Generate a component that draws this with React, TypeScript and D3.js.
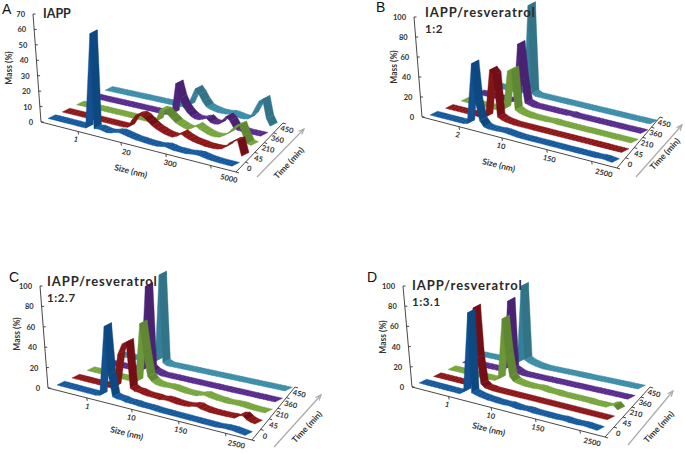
import React from "react";
import * as d3 from "d3";

type Pt = [number, number];

// shared
const timeLabels = ["0", "45", "210", "360", "450"];
const seriesColors = ["#14589c", "#8c1518", "#76a53c", "#57298a", "#3a8ca6"];

// panel A
const sizeLabelsA = ["1", "20", "300", "5000"];
const massTicksA = [0, 10, 20, 30, 40, 50, 60, 70];
const a0 = [1, 1, 1, 1, 1, 1, 1, 1, 1, 1, 63, 2, 2.5, 2, 1.5, 2, 3, 3.5, 3, 2.5, 2, 1.5, 1.5, 1.2, 1, 1, 1, 1.5, 2, 1.5, 1, 1, 1, 1, 1.5, 1.8, 2, 1.5, 1, 0.8, 0.6, 0.5, 0.5, 0.5, 0.5];
const a1 = [0.5, 0.5, 0.5, 0.5, 0.5, 0.5, 0.5, 0.5, 0.5, 0.5, 0.5, 0.5, 0.5, 0.5, 0.5, 0.5, 1, 6, 10, 11, 10, 8, 6, 4.5, 3.5, 2.5, 2, 1.8, 3, 5.5, 4, 3, 2.2, 1.8, 1.5, 1, 1, 1, 1.2, 2, 4, 7, 9, 10, 0.5];
const a2 = [0.5, 0.5, 0.5, 0.5, 0.5, 0.5, 0.5, 0.5, 0.5, 0.5, 0.5, 0.5, 0.5, 0.5, 0.5, 0.5, 0.5, 0.5, 0.5, 1, 2, 10, 10, 8, 6, 4, 3, 2, 1.5, 3, 5, 3.5, 2.5, 1.5, 1, 1, 1.5, 3, 5, 8, 11, 12.5, 6, 1.5, 1];
const a3 = [0.5, 0.5, 0.5, 0.5, 0.5, 0.5, 0.5, 0.5, 0.5, 0.5, 0.5, 0.5, 0.5, 0.5, 0.5, 0.5, 0.5, 0.5, 0.5, 0.5, 1, 2, 22, 13, 8, 5, 3, 2, 2, 3, 4, 2, 1.5, 2, 5, 8, 6, 2, 1, 0.8, 0.5, 0.5, 0.5, 0.5, 0.5];
const a4 = [0.5, 0.5, 0.5, 0.5, 0.5, 0.5, 0.5, 0.5, 0.5, 0.5, 0.5, 0.5, 0.5, 0.5, 0.5, 0.5, 0.5, 0.5, 0.5, 0.5, 0.5, 1, 2, 8, 14, 11, 7, 4, 3, 2.5, 2, 2, 2, 2.5, 2.5, 2, 1.5, 1.5, 2, 5, 10, 15, 17, 5, 0.5];

// panel B
const sizeLabelsB = ["2", "10", "150", "2500"];
const massTicksB = [0, 20, 40, 60, 80, 100];
const b0 = [1, 1, 1, 1, 1, 1, 1, 1, 1, 2, 63, 25, 8, 3, 2, 2, 2, 2.5, 2.5, 2, 1.5, 1.2, 1, 1, 1, 1, 1, 1, 1, 1, 1, 1, 1, 1, 1, 1, 1, 1, 1, 1, 1, 1.5, 1.5, 1, 0.5];
const b1 = [0.5, 0.5, 0.5, 0.5, 0.5, 0.5, 0.5, 0.5, 0.5, 0.5, 2, 50, 46, 5, 3, 2, 1.5, 1, 1, 1, 1, 1, 1, 1, 1, 1, 1, 1, 1, 1, 1, 1, 1, 1, 1, 1, 1, 1, 1, 1, 1, 1, 1, 1, 1];
const b2 = [0.5, 0.5, 0.5, 0.5, 0.5, 0.5, 0.5, 0.5, 0.5, 0.5, 0.5, 3, 42, 44, 5, 3, 2, 1.5, 1, 1, 1, 1, 1, 1.5, 1.5, 1, 1, 1, 1, 1, 1, 1, 1, 1, 1, 1, 1, 1, 1, 1, 1, 1, 1, 1, 1];
const b3 = [0.5, 0.5, 0.5, 0.5, 0.5, 0.5, 0.5, 0.5, 0.5, 0.5, 2, 60, 25, 3, 2, 1, 1, 1, 1, 1, 1, 1, 1, 1, 1, 1.5, 1, 1, 1, 1, 1, 1, 1, 1, 1, 1, 1, 1, 1, 1, 1, 1, 1, 1, 1];
const b4 = [0.5, 0.5, 0.5, 0.5, 0.5, 0.5, 0.5, 0.5, 0.5, 3, 90, 3, 1, 1, 1, 1, 1, 1, 1, 1, 1, 1, 1, 1, 1, 1, 1, 1, 1, 1, 1, 1, 1, 1, 1, 1, 1, 1, 1, 1, 1, 1, 1, 1, 1];

// panel C
const sizeLabelsC = ["1", "10", "150", "2500"];
const massTicksC = [0, 20, 40, 60, 80, 100];
const c0 = [1, 1, 1, 1, 1, 1, 1, 1, 1, 1, 2, 72, 25, 4, 3, 3, 2, 2, 2, 1.5, 1.5, 1.5, 1.5, 1.2, 1, 1, 1, 1, 1, 1, 1, 1, 1, 1, 1, 1, 1, 1, 1.5, 2, 2, 2, 1.5, 1, 0.5];
const c1 = [0.5, 0.5, 0.5, 0.5, 0.5, 0.5, 0.5, 0.5, 0.5, 0.5, 2, 36, 47, 50, 5, 3, 3, 2, 1.5, 1.5, 1.5, 1, 2, 2, 1.5, 1, 1, 1, 1.5, 3, 3.5, 2, 1.5, 1, 1, 1, 1, 1, 1.5, 1.5, 5, 6, 3, 1.5, 1];
const c2 = [0.5, 0.5, 0.5, 0.5, 0.5, 0.5, 0.5, 0.5, 0.5, 0.5, 0.5, 0.5, 1, 60, 32, 9, 5, 3, 2.5, 2.5, 3, 3, 2.5, 2, 1.5, 1.5, 1.5, 1.5, 3, 4, 3, 2.5, 2, 2, 1.5, 1.5, 2, 2, 2, 1.5, 1.2, 1, 1, 1, 1];
const c3 = [0.5, 0.5, 0.5, 0.5, 0.5, 0.5, 0.5, 0.5, 0.5, 0.5, 2, 87, 6, 3, 2, 1, 1, 1, 1, 1, 1, 1, 1, 1, 1, 1, 1, 1, 1, 1, 1, 1, 1, 1, 1, 1, 1, 1, 1, 1, 1, 1, 1, 1, 1];
const c4 = [0.5, 0.5, 0.5, 0.5, 0.5, 0.5, 0.5, 0.5, 0.5, 0.5, 3, 90, 3, 1, 1, 1, 1, 1, 1, 1, 1, 1, 1, 1, 1, 1, 1, 1, 1, 1, 1, 1, 1, 1, 1, 1, 1, 1, 1, 1, 1, 1, 1, 1, 1];

// panel D
const sizeLabelsD = ["1", "10", "150", "2500"];
const massTicksD = [0, 20, 40, 60, 80, 100];
const d0 = [1, 1, 1, 1, 1, 1, 1, 1, 1, 1, 1, 4, 84, 5, 4, 3, 2.5, 2, 2, 1.5, 1.5, 1.5, 2, 1.5, 1, 1, 1.5, 1.5, 1, 1, 1, 1, 1, 1, 1, 1.5, 1.5, 1, 1, 1, 1.5, 1.5, 1, 1, 0.5];
const d1 = [0.5, 0.5, 0.5, 0.5, 0.5, 0.5, 0.5, 0.5, 0.5, 1, 79, 30, 5, 2, 1.5, 1, 1, 1, 1, 1, 1, 1, 1, 1, 1, 1, 1, 1, 1, 1, 1, 1, 1, 1, 1, 1, 1, 1, 1, 1, 1, 1, 1, 1, 1];
const d2 = [0.5, 0.5, 0.5, 0.5, 0.5, 0.5, 0.5, 0.5, 0.5, 0.5, 0.5, 0.5, 0.5, 3, 64, 30, 8, 4, 3, 2.5, 2, 2, 2, 2.5, 2.5, 2, 1.5, 1.5, 1.5, 1, 1, 1, 1, 1, 1, 1, 1, 0.5, 0.5, 0.5, 0.5, 0.5, 3, 4, 0.5];
const d3s = [0.5, 0.5, 0.5, 0.5, 0.5, 0.5, 0.5, 0.5, 0.5, 0.5, 0.5, 3, 72, 5, 3, 1.5, 1, 1, 1, 1, 1, 1, 1, 1, 1, 1, 1, 1, 1, 1, 1, 1, 1, 1, 1, 1, 1, 1, 1, 1, 1, 1, 1, 1, 1];
const d4 = [0.5, 0.5, 0.5, 0.5, 0.5, 0.5, 0.5, 0.5, 0.5, 0.5, 0.5, 2, 79, 6, 4, 3, 2, 1.5, 1, 1, 1, 1, 1, 1, 1, 1, 1, 1, 1, 1, 1, 1, 1, 1, 1, 1, 1, 1, 1, 1, 1, 1, 1, 1, 1, 1];

const font = "Lato, 'Noto Sans', sans-serif";
const bins = d3.range(a0.length);
const binScale = d3.scalePoint<number>().domain(bins).range([0, 1]);
const timeScale = d3.scaleLinear().domain([0, 4]).range([0, 1]);
const polygon = d3.line<Pt>().curve(d3.curveLinearClosed);

const lerp = (a: Pt, b: Pt, t: number): Pt => [a[0] + (b[0] - a[0]) * t, a[1] + (b[1] - a[1]) * t];

interface PanelProps {
  letter: string;
  letterAt: Pt;
  title: string;
  ratio?: string;
  titleAt: Pt;
  series: number[][];
  massTicks: number[];
  pxPerUnit: number;
  sizeLabels: string[];
  sizeLabelFracs: number[];
  origin: Pt;
  xEnd: Pt;
  back: Pt;
  yTop: Pt;
  leftFront: Pt;
  leftBack: Pt;
  rightFront: Pt;
  rightBack: Pt;
  depth: Pt;
  arrow: [Pt, Pt];
  timeAt: Pt;
  sizeAt: Pt;
  massAt: Pt;
}

function Panel(p: PanelProps) {
  const mass = d3.scaleLinear().domain([0, 1]).range([0, p.pxPerUnit]);
  const massMax = p.massTicks[p.massTicks.length - 1];
  const massAxis = d3.scaleLinear().domain([0, massMax]).range([0, 1]);

  const project = (bin: number, z: number, v: number): Pt => {
    const zf = timeScale(z);
    const [x, y] = lerp(lerp(p.leftFront, p.leftBack, zf), lerp(p.rightFront, p.rightBack, zf), binScale(bin)!);
    return [x, y - mass(v)];
  };

  const dir = Math.atan2(p.arrow[0][1] - p.arrow[1][1], p.arrow[1][0] - p.arrow[0][0]);
  const head = (a: number): Pt => [
    p.arrow[1][0] - 6 * Math.cos(dir + a),
    p.arrow[1][1] + 6 * Math.sin(dir + a),
  ];

  return (
    <g fontFamily={font}>
      {/* axes */}
      <g fill="none" stroke="#333" strokeWidth={0.9}>
        <path d={d3.line()([p.yTop, p.origin, p.xEnd, p.back])!} />
        {p.massTicks.map((t) => {
          const c = lerp(p.origin, p.yTop, massAxis(t));
          return <line key={t} x1={c[0]} y1={c[1]} x2={c[0] + 2.5} y2={c[1]} />;
        })}
        {[0.19, 0.41, 0.64, 0.87].map((f) => {
          const c = lerp(p.origin, p.xEnd, f);
          return <line key={f} x1={c[0]} y1={c[1]} x2={c[0] + 0.5} y2={c[1] + 3} />;
        })}
        {d3.range(6).map((i) => {
          const c = lerp(p.xEnd, p.back, i / 5);
          return <line key={i} x1={c[0]} y1={c[1]} x2={c[0] + 3} y2={c[1] + 1} />;
        })}
      </g>

      {/* ribbons, back to front */}
      <g filter="url(#soft)">
        {d3.range(p.series.length - 1, -1, -1).map((z) => (
          <g key={z}>
            {bins.slice(0, -1).map((i) => {
              const v = p.series[z];
              const a = project(i, z, v[i]);
              const b = project(i + 1, z, v[i + 1]);
              const dv = mass(v[i + 1] - v[i]);
              const base = d3.color(seriesColors[z])!;
              const fill = (dv > 2.5 ? base.darker(0.25) : dv < -2.5 ? base.darker(0.55) : base).toString();
              const quad: Pt[] = [a, b, [b[0] + p.depth[0], b[1] + p.depth[1]], [a[0] + p.depth[0], a[1] + p.depth[1]]];
              return <path key={i} d={polygon(quad)!} fill={fill} stroke={fill} strokeWidth={0.4} />;
            })}
          </g>
        ))}
      </g>

      {/* tick labels */}
      <g fontSize={7.5} fontWeight={700} fill="#333">
        {p.massTicks.map((t) => {
          const c = lerp(p.origin, p.yTop, massAxis(t));
          return (
            <text key={t} x={c[0] - 8} y={c[1] + 3} textAnchor="end">
              {t}
            </text>
          );
        })}
        {p.sizeLabels.map((s, i) => {
          const c = lerp(p.origin, p.xEnd, p.sizeLabelFracs[i]);
          return (
            <text key={s} transform={`translate(${c[0]},${c[1] + 11}) rotate(13)`} textAnchor="middle">
              {s}
            </text>
          );
        })}
        {timeLabels.map((s, i) => {
          const c = lerp(p.xEnd, p.back, (i + 0.5) / 5);
          return (
            <text key={s} transform={`translate(${c[0] + 8},${c[1] + 4}) rotate(13)`} textAnchor="middle">
              {s}
            </text>
          );
        })}
      </g>

      {/* axis titles */}
      <g fontSize={8.5} fontWeight={700} fill="#333" textAnchor="middle">
        <text transform={`translate(${p.massAt[0]},${p.massAt[1]}) rotate(-90)`}>Mass (%)</text>
        <text transform={`translate(${p.sizeAt[0]},${p.sizeAt[1]}) rotate(14)`}>Size (nm)</text>
        <text transform={`translate(${p.timeAt[0]},${p.timeAt[1]}) rotate(-47)`}>Time (min)</text>
      </g>

      {/* time arrow */}
      <g stroke="#aaa" strokeWidth={1.2} fill="none">
        <path d={d3.line()(p.arrow)!} />
        <path d={d3.line()([head(0.4), p.arrow[1], head(-0.4)])!} />
      </g>

      <text x={p.letterAt[0]} y={p.letterAt[1]} fontSize={14} fontFamily="'Liberation Sans', sans-serif" fill="#111">
        {p.letter}
      </text>
      <g fontWeight={700} fill="#2a2a2a">
        <text x={p.titleAt[0]} y={p.titleAt[1]} fontSize={p.ratio ? 13 : 12.5} letterSpacing={p.ratio ? 0.9 : 0}>
          {p.title}
        </text>
        {p.ratio && (
          <text x={p.titleAt[0]} y={p.titleAt[1] + 16} fontSize={11.5} letterSpacing={0.6}>
            {p.ratio}
          </text>
        )}
      </g>
    </g>
  );
}

export default function App() {
  return (
    <svg width={685} height={454} style={{ position: "absolute", left: 0, top: 0, background: "#fff" }}>
      <defs>
        <filter id="soft" x="-5%" y="-5%" width="110%" height="110%">
          <feGaussianBlur stdDeviation={0.45} />
        </filter>
      </defs>
      <Panel
        letter="A"
        letterAt={[2, 14]}
        title="IAPP"
        titleAt={[43, 18]}
        series={[a0, a1, a2, a3, a4]}
        massTicks={massTicksA}
        pxPerUnit={1.54}
        sizeLabels={sizeLabelsA}
        sizeLabelFracs={[0.176, 0.435, 0.66, 0.96]}
        origin={[41, 122]}
        xEnd={[236, 172]}
        back={[283, 123]}
        yTop={[33, 14]}
        leftFront={[48, 120]}
        leftBack={[105, 91]}
        rightFront={[232, 167]}
        rightBack={[270, 127]}
        depth={[7.5, -3.8]}
        arrow={[[257, 177], [304, 129]]}
        timeAt={[291, 165]}
        sizeAt={[130, 174]}
        massAt={[12, 68]}
      />
      <Panel
        letter="B"
        letterAt={[376, 12]}
        title="IAPP/resveratrol"
        ratio="1:2"
        titleAt={[425, 17]}
        series={[b0, b1, b2, b3, b4]}
        massTicks={massTicksB}
        pxPerUnit={1}
        sizeLabels={sizeLabelsB}
        sizeLabelFracs={[0.18, 0.403, 0.65, 0.93]}
        origin={[422, 117]}
        xEnd={[617, 168]}
        back={[660, 117]}
        yTop={[414, 17]}
        leftFront={[430, 116]}
        leftBack={[492, 87]}
        rightFront={[612, 163]}
        rightBack={[650, 125]}
        depth={[7.5, -3.8]}
        arrow={[[636, 177], [682, 125]]}
        timeAt={[667, 156]}
        sizeAt={[498, 168]}
        massAt={[397, 67]}
      />
      <Panel
        letter="C"
        letterAt={[9, 282]}
        title="IAPP/resveratrol"
        ratio="1:2.7"
        titleAt={[47, 286]}
        series={[c0, c1, c2, c3, c4]}
        massTicks={massTicksC}
        pxPerUnit={1}
        sizeLabels={sizeLabelsC}
        sizeLabelFracs={[0.19, 0.406, 0.648, 0.92]}
        origin={[48, 388]}
        xEnd={[252, 440]}
        back={[295, 387]}
        yTop={[40, 286]}
        leftFront={[57, 386]}
        leftBack={[117, 356]}
        rightFront={[245, 436]}
        rightBack={[285, 392]}
        depth={[7.5, -3.8]}
        arrow={[[274, 447], [321, 395]]}
        timeAt={[309, 429]}
        sizeAt={[126, 436]}
        massAt={[20, 334]}
      />
      <Panel
        letter="D"
        letterAt={[367, 282]}
        title="IAPP/resveratrol"
        ratio="1:3.1"
        titleAt={[412, 290]}
        series={[d0, d1, d2, d3s, d4]}
        massTicks={massTicksD}
        pxPerUnit={1}
        sizeLabels={sizeLabelsD}
        sizeLabelFracs={[0.18, 0.405, 0.65, 0.93]}
        origin={[412, 387]}
        xEnd={[605, 437]}
        back={[650, 387]}
        yTop={[403, 286]}
        leftFront={[419, 384]}
        leftBack={[477, 356]}
        rightFront={[597, 431]}
        rightBack={[638, 390]}
        depth={[7.5, -3.8]}
        arrow={[[628, 445], [673, 391]]}
        timeAt={[661, 429]}
        sizeAt={[488, 432]}
        massAt={[386, 337]}
      />
    </svg>
  );
}
